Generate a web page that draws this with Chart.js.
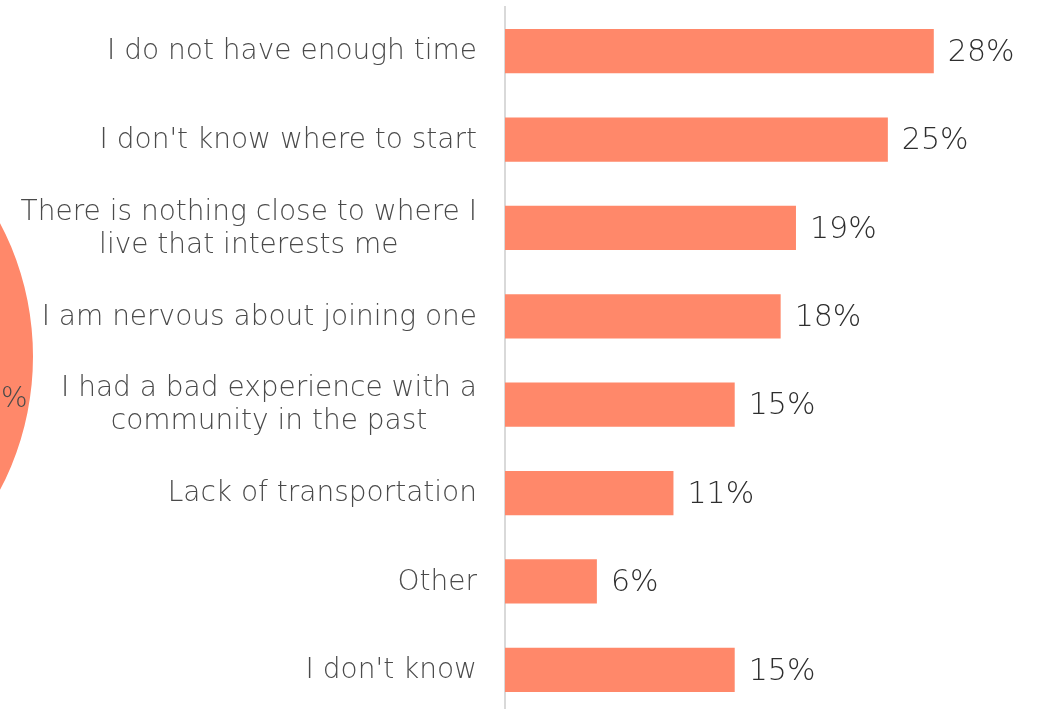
<!DOCTYPE html>
<html lang="en">
<head>
    <meta charset="UTF-8">
    <title>Barriers to joining a community</title>
    <script src="https://cdn.jsdelivr.net/npm/chart.js"></script>
    <style>
        body { margin: 0; background: #fff; overflow: hidden; }
        #pieWrap { position: absolute; left: -540px; top: 70px; width: 573px; height: 573px; }
        #barWrap { position: absolute; left: 0; top: 0; width: 1046px; height: 714px; }
    </style>
</head>
<body>
    <div id="pieWrap"><canvas id="pie"></canvas></div>
    <div id="barWrap"><canvas id="chart"></canvas></div>
    <script>
        const reasons = [
            ['I do not have enough time'],
            ["I don't know where to start"],
            ['There is nothing close to where I', 'live that interests me'],
            ['I am nervous about joining one'],
            ['I had a bad experience with a', 'community in the past'],
            ['Lack of transportation'],
            ['Other'],
            ["I don't know"]
        ];
        const shares = [28, 25, 19, 18, 15, 11, 6, 15];

        const barColor = '#FF886A';
        const fontFamily = '"DejaVu Sans", sans-serif';

        // category labels, each line centred on the widest line, right edge near the axis
        const labelPlugin = {
            id: 'reasonLabels',
            afterDraw(chart) {
                const ctx = chart.ctx;
                const yScale = chart.scales.y;
                const right = chart.chartArea.left - 28;
                const lineH = 33;
                ctx.save();
                ctx.font = '300 28px ' + fontFamily;
                ctx.fillStyle = '#4a4a4a';
                ctx.textAlign = 'center';
                ctx.textBaseline = 'middle';
                reasons.forEach((lines, i) => {
                    const y = yScale.getPixelForValue(i) + 1;
                    const widest = Math.max(...lines.map(l => ctx.measureText(l).width));
                    const cx = right - widest / 2;
                    const y0 = y - (lines.length - 1) * lineH / 2;
                    lines.forEach((l, j) => ctx.fillText(l, cx, y0 + j * lineH));
                });
                ctx.restore();
            }
        };

        // value labels at the end of each bar
        const valuePlugin = {
            id: 'valueLabels',
            afterDatasetsDraw(chart) {
                const ctx = chart.ctx;
                const meta = chart.getDatasetMeta(0);
                ctx.save();
                ctx.font = '300 30px ' + fontFamily;
                ctx.fillStyle = '#2e2e2e';
                ctx.textAlign = 'left';
                ctx.textBaseline = 'middle';
                meta.data.forEach((bar, i) => {
                    ctx.fillText(shares[i] + '%', bar.x + 14, bar.y + 2);
                });
                ctx.restore();
            }
        };

        new Chart(document.getElementById('chart'), {
            type: 'bar',
            data: {
                labels: reasons.map(r => r.join(' ')),
                datasets: [{
                    data: shares,
                    backgroundColor: barColor,
                    borderWidth: 0,
                    barPercentage: 0.5,
                    categoryPercentage: 1
                }]
            },
            options: {
                indexAxis: 'y',
                responsive: true,
                maintainAspectRatio: false,
                animation: false,
                layout: { padding: { top: 7, right: 5, bottom: 0, left: 0 } },
                plugins: { legend: { display: false }, tooltip: { enabled: false } },
                scales: {
                    x: { display: false, min: 0, max: 35 },
                    y: {
                        grid: { display: false },
                        border: { display: true, color: '#d9d9d9', width: 2 },
                        ticks: { display: false },
                        afterFit(scale) { scale.width = 505; }
                    }
                }
            },
            plugins: [labelPlugin, valuePlugin]
        });

        // neighbouring pie, mostly outside the frame
        const pieLabel = {
            id: 'pieLabel',
            afterDatasetsDraw(chart) {
                const arc = chart.getDatasetMeta(0).data[0];
                const ctx = chart.ctx;
                ctx.save();
                ctx.font = '300 28px ' + fontFamily;
                ctx.fillStyle = '#4a4a4a';
                ctx.textAlign = 'right';
                ctx.textBaseline = 'middle';
                ctx.fillText('%', arc.x + 281, arc.y + 43);
                ctx.restore();
            }
        };

        new Chart(document.getElementById('pie'), {
            type: 'pie',
            data: {
                labels: ['share'],
                datasets: [{ data: [1], backgroundColor: barColor, borderWidth: 0, hoverOffset: 0 }]
            },
            options: {
                responsive: true,
                maintainAspectRatio: false,
                animation: false,
                plugins: { legend: { display: false }, tooltip: { enabled: false } }
            },
            plugins: [pieLabel]
        });
    </script>
</body>
</html>
